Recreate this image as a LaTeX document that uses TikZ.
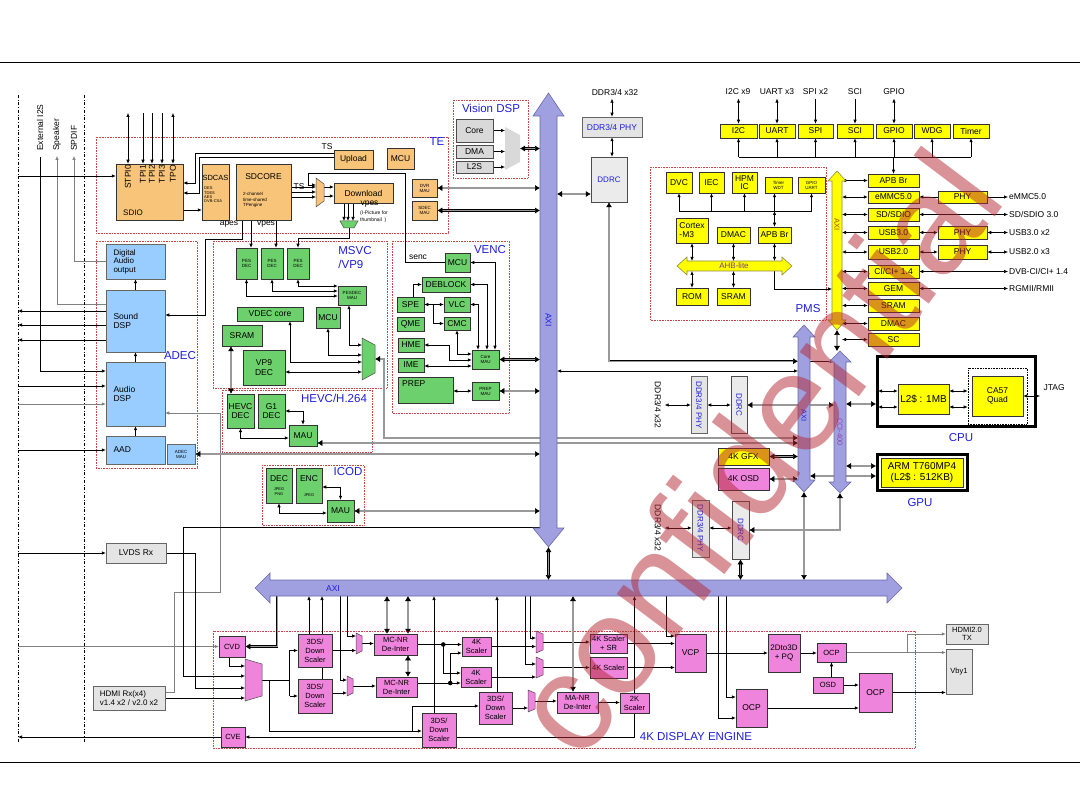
\documentclass[tikz,border=0pt]{standalone}
\usepackage{fontspec}
\setmainfont{Liberation Sans}
\usepackage{xcolor}
\usepackage{tikz}
\usetikzlibrary{shapes,arrows,arrows.meta,positioning,backgrounds}

\definecolor{teorange}{RGB}{247,196,122}
\definecolor{adblue}{RGB}{153,204,255}
\definecolor{vdgreen}{RGB}{108,208,108}
\definecolor{dppink}{RGB}{238,132,220}
\definecolor{pmyellow}{RGB}{255,255,0}
\definecolor{ltgray}{RGB}{228,228,228}
\definecolor{axilav}{RGB}{160,160,224}
\definecolor{axiedge}{RGB}{105,105,170}
\definecolor{lblblue}{RGB}{30,30,220}
\definecolor{dotred}{RGB}{205,70,70}
\definecolor{wmred}{RGB}{180,40,50}
\definecolor{ccitext}{RGB}{140,70,170}
\definecolor{axibrown}{RGB}{170,70,30}
\definecolor{ahbtext}{RGB}{120,60,140}

\newcommand{\fz}[2]{\fontsize{#1}{#2}\selectfont}
\newcommand{\muxfill}[3]{\filldraw[fill=#2,draw=black!70,line width=0.5pt] (#1.north west) -- ([yshift=-#3]#1.north east) -- ([yshift=#3]#1.south east) -- (#1.south west) -- cycle;}

\begin{document}
\begin{tikzpicture}[x=1pt,y=-1pt,font=\fz{8.5}{9.5},>={Latex[length=4pt,width=3.4pt]},
  box/.style={draw=black!80,line width=0.5pt,inner sep=0.5pt,align=center},
  sz/.style 2 args={minimum width=#1pt,minimum height=#2pt},
  tebox/.style={box,fill=teorange},
  adbox/.style={box,fill=adblue,draw=black!60},
  vdbox/.style={box,fill=vdgreen},
  dpbox/.style={box,fill=dppink,font=\fz{7.5}{9}},
  pmbox/.style={box,fill=pmyellow},
  iobox/.style={box,fill=ltgray,draw=black!60},
  vsbox/.style={box,fill=black!15,draw=black!70},
  memc/.style={box,fill=black!8,draw=black!70,text=lblblue,font=\fz{8}{9}},
  muxspot/.style 2 args={sz={#1}{#2},inner sep=0pt,outer sep=0pt},
  thickbox/.style={draw=black,line width=3pt},
  region/.style={draw=dotred,densely dotted,line width=0.6pt},
  grouptitle/.style={text=lblblue,font=\fz{11.5}{12.5}},
  minitext/.style={font=\fz{4.5}{5}},
  wire/.style={line width=0.6pt},
  gwire/.style={line width=0.6pt,draw=black!50},
  bus/.style={double=black!40,double distance=1.2pt,line width=0.5pt,>={Latex[length=5pt,width=6pt]}},
  fabric/.style={fill=axilav,draw=axiedge,line width=0.6pt},
  yfabric/.style={fill=pmyellow,draw=black!50!yellow,line width=0.6pt}]

\useasboundingbox (0,0) rectangle (1080,810);
% page rules and side rails
\draw[line width=1pt] (0,63) -- (1080,63);
\draw[line width=1pt] (0,762) -- (1080,762);
\draw[dashdotted,line width=0.6pt] (18,95) -- (18,743);
\draw[dashdotted,line width=0.6pt] (84,95) -- (84,743);

% bar edges and free ends
\coordinate (edgeL) at (18,0);
\coordinate (topTE) at (0,113);
\coordinate (axiLw) at (540,0);
\coordinate (axiLe) at (557,0);
\coordinate (axiRw) at (798,0);
\coordinate (axiRe) at (810,0);
\coordinate (cciW) at (834,0);
\coordinate (cciE) at (846,0);
\coordinate (pmsW) at (832,0);
\coordinate (pmsE) at (842,0);
\coordinate (ahbN) at (0,261);
\coordinate (ahbS) at (0,271);
\coordinate (busN) at (0,580);
\coordinate (busS) at (0,596);
\coordinate (pline) at (0,211);
\coordinate (perline) at (0,157);
\coordinate (axiLS) at (548.5,547);
\coordinate (axiRS) at (804,492);
\coordinate (pmsS) at (837,330);
\coordinate (cciN) at (840,351);
\coordinate (cciS) at (840,493);
\coordinate (axiLlow) at (540,527);
\coordinate (xlink) at (557,371);
\coordinate (inSDIO) at (18,176);
\coordinate (outA) at (18,311);
\coordinate (outB) at (18,325);
\coordinate (outC) at (18,340);
\coordinate (inAD1) at (18,386);
\coordinate (inAD2) at (18,404);

% left side labels
\node[anchor=south,inner sep=0pt] at (40,151) (li2s) {\rotatebox{90}{External I2S}};
\node[anchor=south,inner sep=0pt] at (57,151) (lspk) {\rotatebox{90}{Speaker}};
\node[anchor=south,inner sep=0pt] at (74,151) (lspdif) {\rotatebox{90}{SPDIF}};

% ADEC
\node[adbox,sz={59}{35},align=left,text width=44pt,font=\fz{8}{8.5}] at (135.5,261.5) (dao) {Digital\\Audio\\output};
\node[adbox,sz={59}{62},align=left,text width=44pt] at (135.5,321) (sdsp) {Sound\\DSP};
\node[adbox,sz={59}{64},align=left,text width=44pt] at (135.5,394) (adsp) {Audio\\DSP};
\node[adbox,sz={59}{28},align=left,text width=44pt] at (135.5,450) (aad) {AAD};
\node[adbox,sz={28}{20},minitext] at (181,454) (adecmau) {ADEC\\MAU};
\node[iobox,sz={60}{20}] at (136,553) (lvds) {LVDS Rx};
\node[iobox,sz={72}{24},align=left,font=\fz{8}{9}] at (129,698) (hdmirx) {HDMI Rx(x4)\\v1.4 x2 / v2.0 x2};

% TE
\node[tebox,sz={67}{56}] at (149.5,192) (sdio) {};
\node[anchor=west,inner sep=0pt,font=\fz{8}{9}] at (123,213) (sdiotxt) {SDIO};
\node[anchor=north,inner sep=0pt] at (128,165) (lstpi) {\rotatebox{90}{STPI0}};
\node[anchor=north,inner sep=0pt] at (143,165) (ltpi1) {\rotatebox{90}{TPI1}};
\node[anchor=north,inner sep=0pt] at (152,165) (ltpi2) {\rotatebox{90}{TPI2}};
\node[anchor=north,inner sep=0pt] at (162,165) (ltpi3) {\rotatebox{90}{TPI3}};
\node[anchor=north,inner sep=0pt] at (173,165) (ltpo) {\rotatebox{90}{TPO}};
\node[tebox,sz={27}{56}] at (215.5,192) (sdcas) {};
\node[inner sep=0pt,font=\fz{7.5}{8}] at (215.5,178) (sdcastxt) {SDCAS};
\node[anchor=north west,inner sep=0pt,font=\fz{4}{4.3},align=left] at (204,187) (sdcassub) {DES\\TDES\\AES\\DVB-CSA};
\node[tebox,sz={55}{56}] at (263.5,192) (sdcore) {};
\node[inner sep=0pt] at (263.5,177) (sdcoretxt) {SDCORE};
\node[anchor=west,inner sep=0pt,font=\fz{4.5}{5.2},align=left] at (243,200) (sdcoresub) {2-channel\\time-shared\\TPengine};
\node[tebox,sz={39}{19}] at (353.5,159.5) (upload) {Upload};
\node[tebox,sz={27}{21}] at (400.5,158.5) (temcu) {MCU};
\node[tebox,sz={59}{20}] at (363.5,193) (download) {Download};
\node[tebox,sz={25}{18},minitext] at (424.5,188) (dvrmau) {DVR\\MAU};
\node[tebox,sz={25}{19},minitext] at (424.5,210.5) (sdecmau) {SDEC\\MAU};
\node[muxspot={8}{29}] at (320,192.5) (temux) {};
\muxfill{temux}{teorange}{6pt}
\node[muxspot={18}{7}] at (349,224.5) (pesmux) {};
\filldraw[fill=vdgreen,draw=black!70,line width=0.5pt] (pesmux.north west) -- (pesmux.north east) -- ([xshift=-4pt]pesmux.south east) -- ([xshift=4pt]pesmux.south west) -- cycle;
\node at (327,147) (tslbl1) {TS};
\node at (299,187) (tslbl2) {TS};
\node at (229,224) (apeslbl) {apes};
\node at (266,224) (vpeslbl) {vpes};
\node at (369.5,204.5) (vpeslbl2) {vpes};
\node[anchor=west,font=\fz{5}{6.5},align=left,inner sep=0pt] at (360,216.5) (ipiclbl) {(I-Picture for\\thumbnail~~)};
\node at (418,257) (senclbl) {senc};

% Vision DSP
\node[vsbox,sz={37}{23}] at (474.5,130.5) (vcore) {Core};
\node[vsbox,sz={37}{13}] at (474.5,151.5) (vdma) {DMA};
\node[vsbox,sz={37}{12}] at (474.5,167) (vl2s) {L2S};
\node[muxspot={15}{43}] at (512.5,148.5) (vmux) {};
\fill[black!15] (vmux.north west) -- ([yshift=-8pt]vmux.north east) -- ([yshift=8pt]vmux.south east) -- (vmux.south west) -- cycle;

% MSVC / VP9
\node[vdbox,sz={21}{31},minitext] at (246.5,263.5) (pes1) {PES\\DEC};
\node[vdbox,sz={22}{31},minitext] at (272,263.5) (pes2) {PES\\DEC};
\node[vdbox,sz={22}{31},minitext] at (298,263.5) (pes3) {PES\\DEC};
\node[vdbox,sz={28}{19},minitext] at (352,295.5) (pesmau) {PESDEC\\MAU};
\node[vdbox,sz={66}{14}] at (270,314) (vdeccore) {VDEC core};
\node[vdbox,sz={24}{21}] at (328,317.5) (msmcu) {MCU};
\node[vdbox,sz={40}{21}] at (242,335.5) (mssram) {SRAM};
\node[vdbox,sz={42}{35}] at (264,367.5) (vp9) {VP9\\DEC};
\node[muxspot={13}{42}] at (368.5,359) (msmux) {};
\muxfill{msmux}{vdgreen}{7pt}

% HEVC
\node[vdbox,sz={27}{34}] at (240.5,411) (hevc) {HEVC\\DEC};
\node[vdbox,sz={27}{34}] at (271.5,411) (g1) {G1\\DEC};
\node[vdbox,sz={28}{21}] at (303,435.5) (hvmau) {MAU};

% VENC
\node[vdbox,sz={25}{19}] at (457.5,262.5) (vnmcu) {MCU};
\node[vdbox,sz={48}{15}] at (446,284.5) (deblock) {DEBLOCK};
\node[vdbox,sz={27}{15}] at (410.5,304.5) (spe) {SPE};
\node[vdbox,sz={26}{15}] at (457,304.5) (vlc) {VLC};
\node[vdbox,sz={27}{14}] at (410.5,324) (qme) {QME};
\node[vdbox,sz={26}{13}] at (457,323.5) (cmc) {CMC};
\node[vdbox,sz={26}{14}] at (411,345) (hme) {HME};
\node[vdbox,sz={26}{14}] at (411,365) (ime) {IME};
\node[vdbox,sz={27}{19},minitext] at (485.5,359.5) (coremau) {Core\\MAU};
\node[vdbox,sz={55}{26}] at (425.5,390) (prep) {};
\node[anchor=north west,inner sep=0pt] at (402,380) (preptxt) {PREP};
\node[vdbox,sz={27}{18},minitext] at (485.5,391) (prepmau) {PREP\\MAU};

% ICOD
\node[vdbox,sz={26}{35}] at (279,485.5) (jdec) {};
\node[inner sep=0pt] at (279,479) (jdectxt) {DEC};
\node[inner sep=0pt,font=\fz{4}{4.8},align=center] at (279,491.5) (jdecsub) {JPEG\\PNG};
\node[vdbox,sz={26}{35}] at (309,485.5) (jenc) {};
\node[inner sep=0pt] at (309,479) (jenctxt) {ENC};
\node[inner sep=0pt,font=\fz{4}{4.8}] at (309,495) (jencsub) {JPEG};
\node[vdbox,sz={27}{22}] at (340.5,511) (icmau) {MAU};

% DDR channels
\node at (615,92) (ddrlbl1) {DDR3/4 x32};
\node[iobox,sz={60}{20},text=lblblue] at (612,127) (ddrphy1) {DDR3/4 PHY};
\node[memc,sz={36}{45}] at (609,179.5) (ddrc1) {DDRC};
\node at (658,405) (ddrlbl2) {\rotatebox{-90}{DDR3/4 x32}};
\node[iobox,sz={16}{57},text=lblblue,font=\fz{8}{9}] at (699,405) (ddrphy2) {\rotatebox{-90}{DDR3/4 PHY}};
\node[memc,sz={16}{57}] at (739,405) (ddrc2) {\rotatebox{-90}{DDRC}};
\node at (658,528) (ddrlbl3) {\rotatebox{-90}{DDR3/4 x32}};
\node[iobox,sz={17}{57},text=lblblue,font=\fz{8}{9}] at (700.5,528.5) (ddrphy3) {\rotatebox{-90}{DDR3/4 PHY}};
\node[memc,sz={17}{58}] at (740.5,530) (ddrc3) {\rotatebox{-90}{DDRC}};
\node[pmbox,sz={51}{17}] at (743.5,456.5) (gfx4k) {4K GFX};
\node[dpbox,sz={51}{22},font=\fz{8.5}{9}] at (743.5,479) (osd4k) {4K OSD};

% PMS
\node[pmbox,sz={26}{21}] at (679,182.5) (dvc) {DVC};
\node[pmbox,sz={25}{21}] at (711.5,182.5) (iec) {IEC};
\node[pmbox,sz={25}{21},font=\fz{8.5}{8}] at (744.5,182.5) (hpm) {HPM\\IC};
\node[pmbox,sz={27}{16},minitext] at (778.5,185) (timer2) {Timer\\WDT};
\node[pmbox,sz={27}{16},minitext] at (811.5,185) (gpiou) {GPIO\\UART};
\node[pmbox,sz={32}{25},align=left,font=\fz{8.5}{9}] at (692,230.5) (cortex) {Cortex\\-M3};
\node[pmbox,sz={33}{16}] at (733.5,235) (pmdmac) {DMAC};
\node[pmbox,sz={33}{16}] at (774.5,235) (apbbr1) {APB Br};
\node[pmbox,sz={32}{17}] at (692,296.5) (rom) {ROM};
\node[pmbox,sz={33}{17}] at (733.5,296.5) (pmsram) {SRAM};

% peripherals on top
\node at (738,92) (i2cl) {I2C x9};
\node at (777,92) (uartl) {UART x3};
\node at (815.5,92) (spil) {SPI x2};
\node at (855,92) (scil) {SCI};
\node at (894,92) (gpiol) {GPIO};
\node[pmbox,sz={37}{14}] at (738.5,131) (i2c) {I2C};
\node[pmbox,sz={36}{14}] at (777,131) (uart) {UART};
\node[pmbox,sz={35}{14}] at (815.5,131) (spi) {SPI};
\node[pmbox,sz={36}{14}] at (855,131) (sci) {SCI};
\node[pmbox,sz={36}{14}] at (894,131) (gpio) {GPIO};
\node[pmbox,sz={36}{14}] at (932,131) (wdg) {WDG};
\node[pmbox,sz={36}{14}] at (971,131) (timer) {Timer};

% high speed column
\node[pmbox,sz={51}{13}] at (893.5,180.5) (apbbr2) {APB Br};
\node[pmbox,sz={51}{12}] at (893.5,197) (emmc) {eMMC5.0};
\node[pmbox,sz={51}{13}] at (893.5,214.5) (sdsdio) {SD/SDIO};
\node[pmbox,sz={51}{13}] at (893.5,232.5) (usb3) {USB3.0};
\node[pmbox,sz={51}{14}] at (893.5,252) (usb2) {USB2.0};
\node[pmbox,sz={51}{13}] at (893.5,271.5) (ci) {CI/CI+ 1.4};
\node[pmbox,sz={51}{13}] at (893.5,288.5) (gem) {GEM};
\node[pmbox,sz={51}{13}] at (893.5,305.5) (pmsram2) {SRAM};
\node[pmbox,sz={51}{13}] at (893.5,323.5) (pmdmac2) {DMAC};
\node[pmbox,sz={51}{13}] at (893.5,339.5) (sc) {SC};
\node[pmbox,sz={49}{12}] at (962.5,197) (phy1) {PHY};
\node[pmbox,sz={49}{13}] at (962.5,232.5) (phy2) {PHY};
\node[pmbox,sz={49}{14}] at (962.5,252) (phy3) {PHY};
\node[anchor=west,inner sep=1pt] at (1008,197) (lemmc) {eMMC5.0};
\node[anchor=west,inner sep=1pt] at (1008,214.5) (lsd) {SD/SDIO 3.0};
\node[anchor=west,inner sep=1pt] at (1008,232.5) (lusb3) {USB3.0 x2};
\node[anchor=west,inner sep=1pt] at (1008,252) (lusb2) {USB2.0 x3};
\node[anchor=west,inner sep=1pt] at (1008,271.5) (lci) {DVB-CI/CI+ 1.4};
\node[anchor=west,inner sep=1pt] at (1008,288.5) (lgem) {RGMII/RMII};

% CPU and GPU
\node[thickbox,sz={158}{70}] at (956.5,391.5) (cpu) {};
\node[pmbox,sz={51}{30},font=\fz{10}{11}] at (923.5,399) (l2s) {L2\$ : 1MB};
\node[draw=black,densely dotted,line width=0.6pt,sz={59}{56}] at (997.5,396) (cadot) {};
\node[pmbox,sz={51}{40}] at (997.5,396) (ca57) {CA57\\Quad};
\node[anchor=west] at (1040,388) (jtag) {JTAG};
\node[thickbox,sz={90}{36}] at (922.5,472.5) (gpu) {};
\node[pmbox,sz={82}{29},font=\fz{10}{11.5}] at (922,472.5) (t760) {ARM T760MP4\\(L2\$ : 512KB)};

% 4K display engine
\node[dpbox,sz={26}{21}] at (232,646.5) (cvd) {CVD};
\node[dpbox,sz={24}{20}] at (233,737) (cve) {CVE};
\node[dpbox,sz={34}{33}] at (315,650.5) (ds1) {3DS/\\Down\\Scaler};
\node[dpbox,sz={34}{34}] at (315,696) (ds2) {3DS/\\Down\\Scaler};
\node[dpbox,sz={43}{21}] at (395.5,644.5) (mcnr1) {MC-NR\\De-Inter};
\node[dpbox,sz={41}{20}] at (396.5,687) (mcnr2) {MC-NR\\De-Inter};
\node[dpbox,sz={29}{19}] at (476.5,646.5) (sc4k1) {4K\\Scaler};
\node[dpbox,sz={30}{20}] at (476,677) (sc4k2) {4K\\Scaler};
\node[dpbox,sz={33}{32}] at (495.5,708) (ds3) {3DS/\\Down\\Scaler};
\node[dpbox,sz={34}{34}] at (439,730) (ds4) {3DS/\\Down\\Scaler};
\node[dpbox,sz={37}{19}] at (608.5,643.5) (sr4k) {4K Scaler\\+ SR};
\node[dpbox,sz={37}{21}] at (608.5,667.5) (sc4k3) {4K Scaler};
\node[dpbox,sz={41}{21}] at (577.5,702.5) (manr) {MA-NR\\De-Inter};
\node[dpbox,sz={29}{20}] at (634.5,703) (sc2k) {2K\\Scaler};
\node[dpbox,sz={31}{38},font=\fz{8.5}{9}] at (690.5,653) (vcp) {VCP};
\node[dpbox,sz={32}{38},font=\fz{8}{9}] at (784,653) (pq) {2Dto3D\\+ PQ};
\node[dpbox,sz={31}{38},font=\fz{8.5}{9}] at (751.5,708) (ocp1) {OCP};
\node[dpbox,sz={29}{19}] at (831.5,652.5) (ocp2) {OCP};
\node[dpbox,sz={30}{16}] at (828,685) (osd) {OSD};
\node[dpbox,sz={33}{39},font=\fz{8.5}{9}] at (875.5,692.5) (ocp3) {OCP};
\node[iobox,sz={42}{20},font=\fz{7.5}{8}] at (967,634) (hdmitx) {HDMI2.0\\TX};
\node[iobox,sz={26}{45},font=\fz{7.5}{8}] at (959,671.5) (vby1) {Vby1};
\node[muxspot={17}{42}] at (253.5,680) (cvdmux) {};
\node[muxspot={6}{21}] at (359,643.5) (smuxA) {};
\node[muxspot={6}{20}] at (350,686) (smuxB) {};
\node[muxspot={7}{22}] at (539.5,642) (smuxC) {};
\node[muxspot={7}{21}] at (539.5,667.5) (smuxD) {};
\node[muxspot={7}{22}] at (531.5,701) (smuxE) {};
\muxfill{cvdmux}{dppink}{5pt}
\muxfill{smuxA}{dppink}{3pt}
\muxfill{smuxB}{dppink}{3pt}
\muxfill{smuxC}{dppink}{3pt}
\muxfill{smuxD}{dppink}{3pt}
\muxfill{smuxE}{dppink}{3pt}

% group titles
\node[grouptitle] at (437,142) (tetitle) {TE};
\node[grouptitle] at (491,108) (vdsptitle) {Vision DSP};
\node[grouptitle,align=left,font=\fz{11.5}{14.5}] at (355,257.5) (msvctitle) {MSVC\\/VP9};
\node[grouptitle] at (180,356) (adectitle) {ADEC};
\node[grouptitle] at (334,398) (hevctitle) {HEVC/H.264};
\node[grouptitle] at (490,250) (venctitle) {VENC};
\node[grouptitle] at (348,472) (icodtitle) {ICOD};
\node[grouptitle] at (808,309) (pmstitle) {PMS};
\node[grouptitle] at (961,438) (cputitle) {CPU};
\node[grouptitle] at (920,503) (gputitle) {GPU};
\node[grouptitle] at (696,737) (detitle) {4K DISPLAY ENGINE};

% interconnect fabrics
\filldraw[fabric] (548.5,93) -- (564,116) -- (557,116) -- (557,528) -- (564,528) -- (548.5,547) -- (533,528) -- (540,528) -- (540,116) -- (533,116) -- cycle;
\node[rotate=-90,text=lblblue] at (548.5,320) (axiLtxt) {AXI};
\filldraw[fabric] (804,325) -- (815,337) -- (810,337) -- (810,480) -- (815,480) -- (804,492) -- (793,480) -- (798,480) -- (798,337) -- (793,337) -- cycle;
\node[rotate=-90,text=lblblue,font=\fz{7.5}{8}] at (804,416) (axiRtxt) {AXI};
\filldraw[fabric] (840,351) -- (851,362) -- (846,362) -- (846,482) -- (851,482) -- (840,493) -- (829,482) -- (834,482) -- (834,362) -- (829,362) -- cycle;
\node[rotate=-90,text=ccitext,font=\fz{7.5}{8}] at (840,432) (ccitxt) {CCI-400};
\filldraw[yfabric] (837,171) -- (846,181) -- (842,181) -- (842,320) -- (846,320) -- (837,330) -- (828,320) -- (832,320) -- (832,181) -- (828,181) -- cycle;
\node[rotate=-90,text=axibrown,font=\fz{7.5}{8}] at (837,225) (axiPtxt) {AXI};
\filldraw[fabric] (255,588) -- (270,573) -- (270,580) -- (887,580) -- (887,573) -- (902,588) -- (887,603) -- (887,596) -- (270,596) -- (270,603) -- cycle;
\node[text=lblblue] at (333,588.5) (axiHtxt) {AXI};
\filldraw[yfabric] (677,266) -- (687,257) -- (687,261) -- (782,261) -- (782,257) -- (792,266) -- (782,275) -- (782,271) -- (687,271) -- (687,275) -- cycle;
\node[text=ahbtext,font=\fz{8}{9}] at (734,266) (ahbtxt) {AHB-lite};

\begin{scope}[on background layer]
% dotted groups
\draw[region] (96,137) rectangle (448,233);
\draw[region] (453,100) rectangle (528,178);
\draw[region] (96,241) rectangle (197,468);
\draw[region] (213,241) rectangle (387,388);
\draw[region] (222,390) rectangle (372,452);
\draw[region] (392,241) rectangle (509,413);
\draw[region] (262,465) rectangle (364,525);
\draw[region] (650,167) rectangle (826,320);
\draw[region] (213,631) rectangle (915,748);

% left edge I/O
\draw[wire,->] ([yshift=-6pt]li2s.south) |- ([yshift=23pt]adsp.west);
\draw[gwire,->] ([yshift=17pt]sdsp.west) -| ([yshift=-5pt]lspk.south);
\draw[gwire,->] (dao.west) -| ([yshift=-5pt]lspdif.south);
\draw[wire,->] (inSDIO) -- (inSDIO -| sdio.west);
\foreach \p in {outA,outB,outC} \draw[wire,->] (\p -| sdsp.west) -- (\p);
\draw[wire,->] (inAD1) -- (inAD1 -| adsp.west);
\draw[gwire,->] (inAD2) -- (inAD2 -| adsp.west);
\draw[wire,->] (aad.west -| edgeL) -- (aad.west);
\draw[wire,->] (lvds.west -| edgeL) -- (lvds.west);
\draw[gwire,->] (cvd.west -| edgeL) -- (cvd.west);
\draw[wire,->] (cve.west) -- (cve.west -| edgeL);

% ADEC
\draw[wire,->] (sdsp.north) -- (dao.south);
\draw[wire,->] (adsp.north) -- (sdsp.south);
\draw[wire,->] (aad.north) -- (adsp.south);
\draw[wire,->] ([xshift=-21.5pt]sdcore.south) |- (205,239) |- ([yshift=6pt]sdsp.east);
\draw[gwire,->] ([yshift=6pt]hdmirx.east) -| (174,592) -| (220,413) -- ([yshift=-19pt]adsp.east);
\draw[bus,<->] (adecmau.east) -- (adecmau.east -| axiLw);

% TE
\draw[wire,<->] ([xshift=-21.5pt]sdio.north) coordinate (t) -- (t |- topTE);
\foreach \d in {-6.5,2.5,12.5} \draw[wire,<-] ([xshift=\d pt]sdio.north) coordinate (t) -- (t |- topTE);
\draw[wire,<->] ([xshift=23.5pt]sdio.north) coordinate (t) -- (t |- topTE);
\draw[wire,->] ([yshift=6.5pt]upload.west) -| (195,183) -- ([yshift=9pt]sdio.east);
\draw[wire,->] ([yshift=2.5pt]upload.west) -| (199,193) -- ([yshift=-1pt]sdio.east);
\draw[wire,->] ([yshift=-18pt]sdio.east) coordinate (t) -- (t -| sdcas.west);
\foreach \d in {5,0,-5} \draw[wire,->] ([yshift=\d pt]sdcore.east) coordinate (t) -- (t -| temux.west);
\draw[wire,->] (vnmcu.west) -| (405,173) -| (308,185) -- ([yshift=7.5pt]temux.west);
\foreach \d in {5.5,-3.5} \draw[wire,->] ([yshift=\d pt]temux.east) coordinate (t) -- (t -| download.west);
\foreach \d in {-19.5,-15.5,-10.5} \draw[wire,->] ([xshift=\d pt]download.south) coordinate (t) -- (t |- pesmux.north);
\draw[wire,->] (pesmux.south) -- ++(0,10) -| (pes3.north);
\draw[wire,->] ([xshift=-12.5pt]sdcore.south) coordinate (t) -- (t |- pes1.north);
\draw[wire,->] ([xshift=12.5pt]sdcore.south) coordinate (t) -- (t |- pes2.north);
\draw[bus,<->] (dvrmau.east) -- (dvrmau.east -| axiLw);
\draw[bus,<->] (sdecmau.east) -- (sdecmau.east -| axiLw);

% Vision DSP
\foreach \n in {vcore,vdma,vl2s} \draw[wire,->] (\n.east) -- (\n.east -| vmux.west);
\draw[bus,<->] (vmux.east) -- (vmux.east -| axiLw);

% MSVC / HEVC
\draw[wire,<->] (pes3.south) |- ([yshift=9.5pt]pesmau.west);
\draw[wire,<->] (pes2.south) |- ([yshift=4.5pt]pesmau.west);
\draw[wire,<->] (pes1.south) |- ([yshift=-0.5pt]pesmau.west);
\draw[wire,<->] ([xshift=-3pt]pesmau.south) |- ([yshift=14pt]msmux.west);
\draw[wire,<->] (msmcu.south) |- ([yshift=4pt]msmux.west);
\draw[wire,<->] ([xshift=20pt]vdeccore.south) |- ([yshift=-3pt]msmux.west);
\draw[wire,<->] ([yshift=-4.5pt]vp9.east) coordinate (t) -- (t -| msmux.west);
\draw[bus,<->] ([xshift=-11pt]mssram.south) coordinate (t) -- (t |- hevc.north);
\draw[bus,<->] (msmux.east) -| (384,438) coordinate (t) -- (t -| axiRw);
\draw[wire,<->] (g1.east) -| (hvmau.north);
\draw[wire,<->] (hevc.south) |- ([yshift=-2.5pt]hvmau.west);
\draw[bus,<->] ([yshift=-7.5pt]hvmau.east) coordinate (t) -- (t -| axiRw);

% ICOD
\draw[wire,<->] ([yshift=-1.5pt]jenc.east) -| (icmau.north);
\draw[wire,<->] (jdec.south) |- ([yshift=-2pt]icmau.west);
\draw[bus,<->] (icmau.east) -- (icmau.east -| axiLw);

% VENC
\draw[wire,->] ([xshift=2.5pt]spe.north) |- (deblock.west);
\draw[wire,<->] (spe.east) -- (vlc.west);
\draw[wire,->] (spe.east) -- ++(9,0) |- (cmc.west);
\draw[wire,<->] (vlc.east) -| ([xshift=-7.5pt]coremau.north);
\draw[wire,<->] (deblock.east) -| ([xshift=1.5pt]coremau.north);
\draw[wire,<->] (vnmcu.east) -| ([xshift=9.5pt]coremau.north);
\draw[wire,<->] (cmc.south) |- ([yshift=5.5pt]coremau.west);
\draw[wire,<->] (hme.east) -| (449,360) -- ([yshift=-0.5pt]coremau.west);
\draw[wire,<->] ([yshift=-1pt]ime.east) coordinate (t) -- (t -| coremau.west);
\draw[wire,<->] (prepmau.west -| prep.east) -- (prepmau.west);
\draw[bus,<->] (coremau.east) -- (coremau.east -| axiLw);
\draw[bus,<->] (prepmau.east) -- (prepmau.east -| axiLw);

% DDR and memory paths
\draw[wire,<->] (ddrphy1.north |- ddrlbl1.south) -- (ddrphy1.north);
\draw[wire,<->] (ddrphy1.south) -- (ddrphy1.south |- ddrc1.north);
\draw[bus,<->] ([yshift=-14.5pt]ddrc1.west) coordinate (t) -- (t -| axiLe);
\draw[bus,<->] (ddrc1.south) -- ++(0,159) coordinate (t) -- (t -| axiRw);
\draw[wire,->] (t -| axiRe) -- (t -| cciW);
\draw[wire,<->] (xlink) -- (xlink -| axiRw);
\draw[wire,<->] (ddrlbl2.east) -- (ddrlbl2.east -| ddrphy2.west);
\draw[wire,<->] (ddrphy2.east) -- (ddrphy2.east -| ddrc2.west);
\draw[bus,<-] (ddrc2.east) -- (ddrc2.east -| axiRw);
\draw[bus,->] (ddrc2.east -| axiRe) -- (ddrc2.east -| cciW);
\draw[wire,<->] (ddrlbl3.east) -- (ddrlbl3.east -| ddrphy3.west);
\draw[wire,<->] (ddrlbl3.east -| ddrphy3.east) -- (ddrlbl3.east -| ddrc3.west);
\draw[bus,<->] (cciS) |- (ddrc3.east);
\draw[bus,<->] (ddrc3.south) -- (ddrc3.south |- busN);
\draw[bus,<->] (gfx4k.east) -- (gfx4k.east -| axiRw);
\draw[bus,<->] (osd4k.east) -- (osd4k.east -| axiRw);
\draw[bus,<->] ([yshift=6.5pt]gpu.west) coordinate (t) -- (t -| cciE);
\draw[bus,<->] ([yshift=-3.5pt]gpu.west) coordinate (t) -- (t -| axiRe);
\draw[bus,<->] ([yshift=-12.5pt]cpu.west) coordinate (t) -- (t -| cciE);
\draw[bus,<->] (axiLS) -- (axiLS |- busN);
\draw[bus,<->] (axiRS) -- (axiRS |- busN);
\draw[bus,<->] (pmsS) -- (pmsS |- cciN);

% CPU inside
\foreach \d in {8,-8} {
  \draw[wire,<->,shorten >=2pt] ([yshift=\d pt]l2s.west) coordinate (t) -- (t -| cpu.west);
  \draw[wire,<->] ([yshift=\d pt]l2s.east) coordinate (t) -- (t -| cadot.west);
}
\draw[wire,<->] (ca57.east) -- (ca57.east -| jtag.west);

% PMS
\draw[wire] (dvc.south |- pline) -- (gpiou.south |- pline);
\foreach \n in {dvc,iec,hpm,gpiou} \draw[wire,->] (\n.south |- pline) -- (\n.south);
\draw[wire,->] (apbbr1.north |- pline) -- (apbbr1.north |- timer2.south);
\draw[wire,<->] (apbbr1.north) -- (apbbr1.north |- pline);
\foreach \n in {cortex,pmdmac,apbbr1} \draw[wire,<->] (\n.south) -- (\n.south |- ahbN);
\foreach \n in {rom,pmsram} \draw[wire,<->] (\n.north) -- (\n.north |- ahbS);
\draw[wire,->] (apbbr1.south |- ahbS) -- ++(0,18) coordinate (t) -- (t -| pmsW);

% peripherals
\draw[wire,<->] (i2c.north |- i2cl.south) -- (i2c.north);
\draw[wire,<->] (uart.north |- uartl.south) -- (uart.north);
\draw[wire,->] (spi.north |- spil.south) -- (spi.north);
\draw[wire,->] (sci.north |- scil.south) -- (sci.north);
\draw[wire,<->] (gpio.north |- gpiol.south) -- (gpio.north);
\draw[wire] (i2c.south |- perline) -- (timer.south |- perline);
\foreach \n in {i2c,uart,spi,sci,gpio,wdg,timer} \draw[wire,->] (\n.south |- perline) -- (\n.south);
\draw[wire,->] (apbbr2.north |- perline) -- (apbbr2.north);
\foreach \n in {apbbr2,emmc,sdsdio,usb3,usb2,ci,gem,pmsram2,pmdmac2,sc} \draw[wire,<->] (\n.west -| pmsE) -- (\n.west);
\draw[wire,->] (phy1.west) -- (emmc.east);
\draw[wire,->] (phy1.east) -- (phy1.east -| lemmc.west);
\draw[wire,<->] (sdsdio.east) -- (sdsdio.east -| lsd.west);
\draw[wire,<->] (usb3.east) -- (phy2.west);
\draw[wire,<->] (phy2.east) -- (phy2.east -| lusb3.west);
\draw[wire,<->] (usb2.east) -- (phy3.west);
\draw[wire,<->] (phy3.east) -- (phy3.east -| lusb2.west);
\draw[wire,<->] (ci.east) -- (ci.east -| lci.west);
\draw[wire,<->] (gem.east) -- (gem.east -| lgem.west);

% display engine inputs
\draw[wire,->] (lvds.east) -| (195,688) -- ([yshift=-8pt]cvdmux.west);
\draw[wire,->] (hdmirx.east) -- (hdmirx.east -| cvdmux.west);
\draw[wire,->] (axiLlow) -| (183,676) -- ([yshift=4pt]cvdmux.west);
\draw[wire,->] ([xshift=-3pt]cvd.south) |- ([yshift=14pt]cvdmux.west);
\draw[bus,<-] (cvd.east) -- ++(32,0) coordinate (t) -- (t |- busS);
\draw[wire] (cvdmux.east) -- ++(7,0) coordinate (mo);
\draw[wire,->] (mo) -| ([xshift=-8pt]ds1.west) -- (ds1.west);
\draw[wire] ([xshift=-8pt]ds1.west) -- ([xshift=-8pt]ds2.west);
\draw[wire,->] ([xshift=-8pt]ds2.west) -- (ds2.west);
\draw[wire,->] (mo) |- ([yshift=-1pt]ds4.west);
\draw[wire,->] ([xshift=-9pt,yshift=-1pt]ds4.west) |- ([yshift=2pt]ds3.west);

% display engine datapath
\draw[wire] ([xshift=7pt]ds1.south) coordinate (t) -- (t |- ds2.north);
\foreach \d in {-6,7} \draw[wire,->] ([xshift=\d pt]ds1.north) coordinate (t) -- (t |- busS);
\draw[wire,<-] ([yshift=7.5pt]smuxA.west) -- ++(-9,0) coordinate (t) -- (t |- busS);
\draw[wire,<-] ([yshift=6pt]smuxB.west) -- ++(-7,0) coordinate (t) -- (t |- busS);
\draw[wire,->] (ds1.east) -- (ds1.east -| smuxA.west);
\draw[wire,->] ([yshift=3pt]ds2.east) coordinate (t) -- (t -| smuxB.west);
\draw[wire,->] (smuxA.east) -- (smuxA.east -| mcnr1.west);
\draw[wire,->] (smuxB.east) -- (smuxB.east -| mcnr2.west);
\draw[bus,<->] ([xshift=-8.5pt]mcnr1.north) coordinate (t) -- (t |- busS);
\draw[bus,<->] ([xshift=12.5pt]mcnr1.north) coordinate (t) -- (t |- busS);
\draw[bus,<->] ([xshift=12.5pt]mcnr1.south) coordinate (t) -- (t |- mcnr2.north);
\draw[wire,->] (mcnr1.east) -- (mcnr1.east -| sc4k1.west);
\fill (mcnr1.east) ++(26,0) coordinate (dot1) circle (2.3pt);
\draw[wire,->] (dot1) |- ([yshift=4pt]sc4k2.west);
\draw[wire,->] ([yshift=4pt]mcnr2.east) coordinate (t) -- (t -| sc4k2.west);
\fill (t) ++(33,0) coordinate (dot2) circle (2.3pt);
\draw[wire,->] (dot2) |- ([yshift=-6.5pt]sc4k1.west);
\draw[wire,->] (sc4k1.east) -- (sc4k1.east -| smuxC.west);
\draw[wire,->] (sc4k2.east) -- (sc4k2.east -| smuxD.west);
\draw[wire,<-] ([yshift=4pt]smuxC.west) -- ++(-6,0) coordinate (t) -- (t |- busS);
\draw[wire,<-] ([yshift=3.5pt]smuxD.west) -- ++(-11,0) coordinate (t) -- (t |- busS);
\draw[wire,->] (smuxC.east) -- (smuxC.east -| sr4k.west);
\draw[wire,->] (smuxD.east) -- (smuxD.east -| sc4k3.west);
\draw[wire,->] (ds3.east) -- (ds3.east -| smuxE.west);
\draw[wire,->] ([xshift=1.5pt]ds3.north) coordinate (t) -- (t |- busS);
\draw[wire,->] ([xshift=-5pt]ds4.north) coordinate (t) -- (t |- busS);
\draw[wire,->] (smuxE.east) -- (smuxE.east -| manr.west);
\draw[bus,<->] ([xshift=-4.5pt]manr.north) coordinate (t) -- (t |- busS);
\draw[wire,->] (manr.east) -- (manr.east -| sc2k.west);
\draw[wire,->] (sc2k.north) -- (sc2k.north |- busS);
\draw[wire,->] (sc2k.south) |- (cve.east);
\draw[wire,->] (sr4k.east) -- (sr4k.east -| vcp.west);
\draw[wire,->] (sc4k3.east) -- (sc4k3.east -| vcp.west);
\draw[wire,<-] ([yshift=17pt]vcp.west) -- ++(-8,0) coordinate (t) -- (t |- busS);
\draw[wire,->] (vcp.east) -- (vcp.east -| pq.west);
\draw[wire,<-] ([yshift=11pt]ocp1.west) -- ++(-9,0) coordinate (t) -- (t |- busS);
\draw[wire,<-] ([yshift=-10pt]ocp1.west) -- ++(-17,0) coordinate (t) -- (t |- busS);
\draw[wire,->] (ocp1.east) -- (ocp1.east -| ocp3.west);
\draw[wire,->] (pq.east) -- (pq.east -| ocp2.west);
\draw[wire,->] (ocp2.south |- osd.north) -- (ocp2.south);
\draw[wire,->] (osd.east) -- (osd.east -| ocp3.west);
\draw[gwire,->] (ocp2.east) -- (ocp2.east -| vby1.west);
\draw[gwire,->] (ocp2.east) -- ++(61,0) |- (hdmitx.west);
\draw[wire,->] (ocp3.east) -- (ocp3.east -| vby1.west);
\end{scope}

% watermark
\node[rotate=53,text=wmred,opacity=0.5,font=\fz{140}{140},inner sep=0pt] at (755,452) (wmark) {confidential};
\end{tikzpicture}
\end{document}
